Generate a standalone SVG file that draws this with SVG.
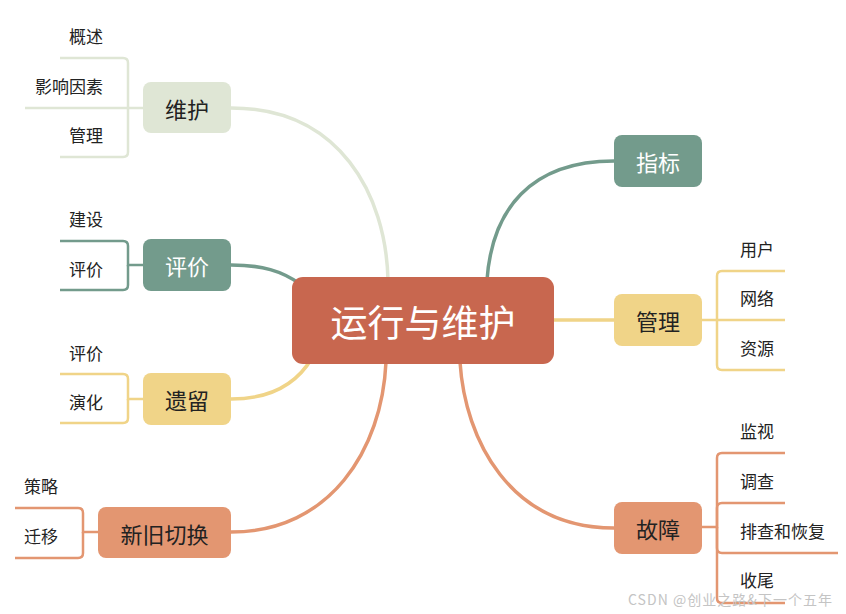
<svg xmlns="http://www.w3.org/2000/svg" width="846" height="614" viewBox="0 0 846 614">
<style>
text{font-family:"Noto Sans CJK SC","Noto Sans",sans-serif}
.main{font-size:22px;text-anchor:middle;dominant-baseline:central;fill:#222}
.w{fill:#fff}
.sub{font-size:17px;dominant-baseline:central;fill:#222}
.l{text-anchor:end}
.r{text-anchor:start}
.c{fill:none;stroke-width:3.5;stroke-linecap:round}
.s{fill:none;stroke-width:2.5}
.g1{stroke:#DFE6D5}.g2{stroke:#739B8C}.g3{stroke:#F0D488}.g4{stroke:#E39671}
</style>
<rect width="846" height="614" fill="#fff"/>
<g id="connectors">
<path class="c g1" d="M231,108 C340,108 386,195 388,280"/>
<path class="c g2" d="M231,265 C262,265 282,271 300,284"/>
<path class="c g3" d="M231,399 C270,399 296,385 312,358"/>
<path class="c g4" d="M231,532 C330,532 382,450 386,362"/>
<path class="c g2" d="M614,161 C530,161 492,210 487,280"/>
<path class="c g3" d="M552,320 H614"/>
<path class="c g4" d="M614,528 C510,528 465,440 460,362"/>
<!-- 维护 children -->
<path class="s g1" d="M143,108 H25"/>
<path class="s g1" d="M128,108 V63 Q128,58 123,58 H60"/>
<path class="s g1" d="M128,108 V152 Q128,157 123,157 H60"/>
<!-- 评价 children -->
<path class="s g2" d="M143,265 H128 V246 Q128,241 123,241 H60"/>
<path class="s g2" d="M128,265 V285 Q128,290 123,290 H60"/>
<!-- 遗留 children -->
<path class="s g3" d="M143,399 H128 V379 Q128,374 123,374 H60"/>
<path class="s g3" d="M128,399 V418 Q128,423 123,423 H60"/>
<!-- 新旧切换 children -->
<path class="s g4" d="M98,532 H83 V513 Q83,508 78,508 H15"/>
<path class="s g4" d="M83,532 V553 Q83,558 78,558 H15"/>
<!-- 管理 children -->
<path class="s g3" d="M702,320 H785"/>
<path class="s g3" d="M717,320 V276 Q717,271 722,271 H785"/>
<path class="s g3" d="M717,320 V365 Q717,370 722,370 H785"/>
<!-- 故障 children -->
<path class="s g4" d="M702,527 H717 V458 Q717,453 722,453 H785"/>
<path class="s g4" d="M717,527 V508 Q717,503 722,503 H785"/>
<path class="s g4" d="M717,527 V548 Q717,553 722,553 H838"/>
<path class="s g4" d="M717,527 V598 Q717,603 722,603 H785"/>
</g>
<g id="center">
<rect x="292" y="277" width="262" height="87" rx="11" fill="#C8674F"/>
<text x="423" y="321" font-size="37" text-anchor="middle" dominant-baseline="central" fill="#fff">运行与维护</text>
</g>
<g id="n-weihu">
<rect x="143" y="82" width="88" height="51" rx="8" fill="#DFE6D5"/>
<text class="main" x="187" y="107.5">维护</text>
</g>
<g id="n-pingjia">
<rect x="143" y="239" width="88" height="52" rx="8" fill="#739B8C"/>
<text class="main w" x="187" y="265">评价</text>
</g>
<g id="n-yiliu">
<rect x="143" y="373" width="88" height="52" rx="8" fill="#F0D488"/>
<text class="main" x="187" y="399">遗留</text>
</g>
<g id="n-qiehuan">
<rect x="98" y="507" width="133" height="51" rx="8" fill="#E39671"/>
<text class="main" x="164.5" y="532.5">新旧切换</text>
</g>
<g id="n-zhibiao">
<rect x="614" y="135" width="88" height="52" rx="8" fill="#739B8C"/>
<text class="main w" x="658" y="161">指标</text>
</g>
<g id="n-guanli">
<rect x="614" y="294" width="88" height="52" rx="8" fill="#F0D488"/>
<text class="main" x="658" y="320">管理</text>
</g>
<g id="n-guzhang">
<rect x="614" y="502" width="88" height="52" rx="8" fill="#E39671"/>
<text class="main" x="658" y="528">故障</text>
</g>
<g id="labels">
<text class="sub l" x="103" y="35.5">概述</text>
<text class="sub l" x="103" y="85.5">影响因素</text>
<text class="sub l" x="103" y="134.5">管理</text>
<text class="sub l" x="103" y="218.5">建设</text>
<text class="sub l" x="103" y="268">评价</text>
<text class="sub l" x="103" y="352">评价</text>
<text class="sub l" x="103" y="401.5">演化</text>
<text class="sub l" x="58" y="485.5">策略</text>
<text class="sub l" x="58" y="535.5">迁移</text>
<text class="sub r" x="740" y="248.5">用户</text>
<text class="sub r" x="740" y="297.5">网络</text>
<text class="sub r" x="740" y="347.5">资源</text>
<text class="sub r" x="740" y="430.5">监视</text>
<text class="sub r" x="740" y="480.5">调查</text>
<text class="sub r" x="740" y="530.5">排查和恢复</text>
<text class="sub r" x="740" y="579.5">收尾</text>
</g>
<text x="628" y="599" font-size="14" textLength="204" dominant-baseline="central" fill="#c4c4c4">CSDN @创业之路&amp;下一个五年</text>
</svg>
